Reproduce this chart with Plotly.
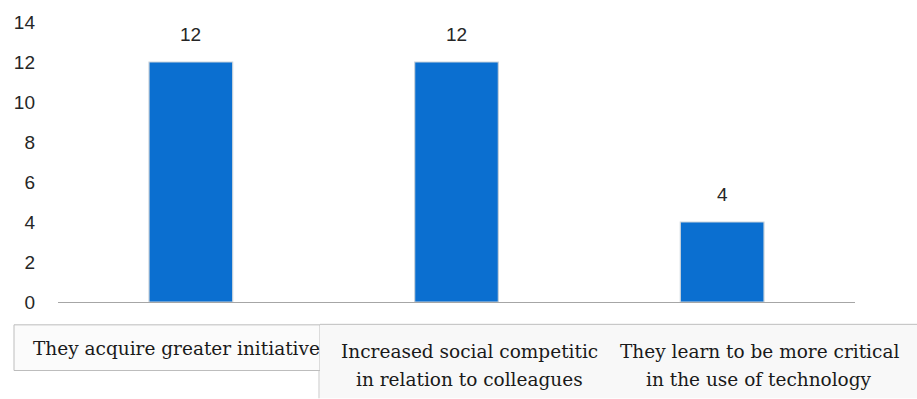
import plotly.graph_objects as go

categories = ["They acquire greater initiative",
              "Increased social competition in relation to colleagues",
              "They learn to be more critical in the use of technology"]
values = [12, 12, 4]
label_lines = [["They acquire greater initiative"],
               ["Increased social competitic", "in relation to colleagues"],
               ["They learn to be more critical", "in the use of technology"]]
yticks = [0, 2, 4, 6, 8, 10, 12, 14]

W, H = 917, 399
L, R, T, B = 58, 62, 20, 97
pw, ph = W - L - R, H - T - B

def px(x):
    return (x - L) / pw

def py(y):
    return (H - B - y) / ph

fig = go.Figure()
fig.add_trace(go.Bar(
    x=categories, y=values,
    width=0.315,
    marker=dict(color="#0B6FD0", line=dict(color="#C9D3DC", width=1.2)),
    cliponaxis=False,
))

annotations = []
for c, v in zip(categories, values):
    annotations.append(dict(
        x=c, y=v, xref="x", yref="y", text=str(v), showarrow=False,
        yanchor="bottom", yshift=15,
        font=dict(family="Liberation Sans", size=19, color="#262626")))

shapes = [
    dict(type="rect", xref="paper", yref="paper",
         x0=px(14), x1=px(320), y0=py(371), y1=py(325),
         line=dict(color="#BDBDBD", width=1), fillcolor="#FBFBFB", layer="below"),
    dict(type="rect", xref="paper", yref="paper",
         x0=px(320), x1=px(917), y0=py(399), y1=py(325),
         line=dict(width=0), fillcolor="#F8F8F8", layer="below"),
    dict(type="line", xref="paper", yref="paper",
         x0=px(320), x1=px(917), y0=py(324.5), y1=py(324.5),
         line=dict(color="#BDBDBD", width=1)),
    dict(type="rect", xref="paper", yref="paper",
         x0=px(14), x1=px(319), y0=py(399), y1=py(371.5),
         line=dict(width=0), fillcolor="white", layer="below"),
    dict(type="line", xref="paper", yref="paper",
         x0=px(319), x1=px(319), y0=py(371), y1=py(399),
         line=dict(color="#C8C8C8", width=1)),
]

centers = [176, 469, 759]
for lines, cx in zip(label_lines, centers):
    ys = [349] if len(lines) == 1 else [352, 380]
    for txt, yy in zip(lines, ys):
        annotations.append(dict(
            text=txt, xref="paper", yref="paper", x=px(cx), y=py(yy),
            xanchor="center", yanchor="middle", showarrow=False,
            font=dict(family="DejaVu Serif", size=18.5, color="#1a1a1a")))

fig.update_layout(
    width=W, height=H,
    margin=dict(l=L, r=R, t=T, b=B, pad=0),
    paper_bgcolor="white", plot_bgcolor="white",
    showlegend=False,
    xaxis=dict(showticklabels=False, showline=True, linecolor="#A6A6A6", linewidth=1.2,
               ticks="", showgrid=False, zeroline=False),
    yaxis=dict(range=[0, 14], tickvals=yticks, showgrid=False, zeroline=False,
               showline=False, ticks="", ticklabelstandoff=22,
               tickfont=dict(family="Liberation Sans", size=19, color="#262626")),
    shapes=shapes, annotations=annotations,
)

fig.write_html("out.html")
